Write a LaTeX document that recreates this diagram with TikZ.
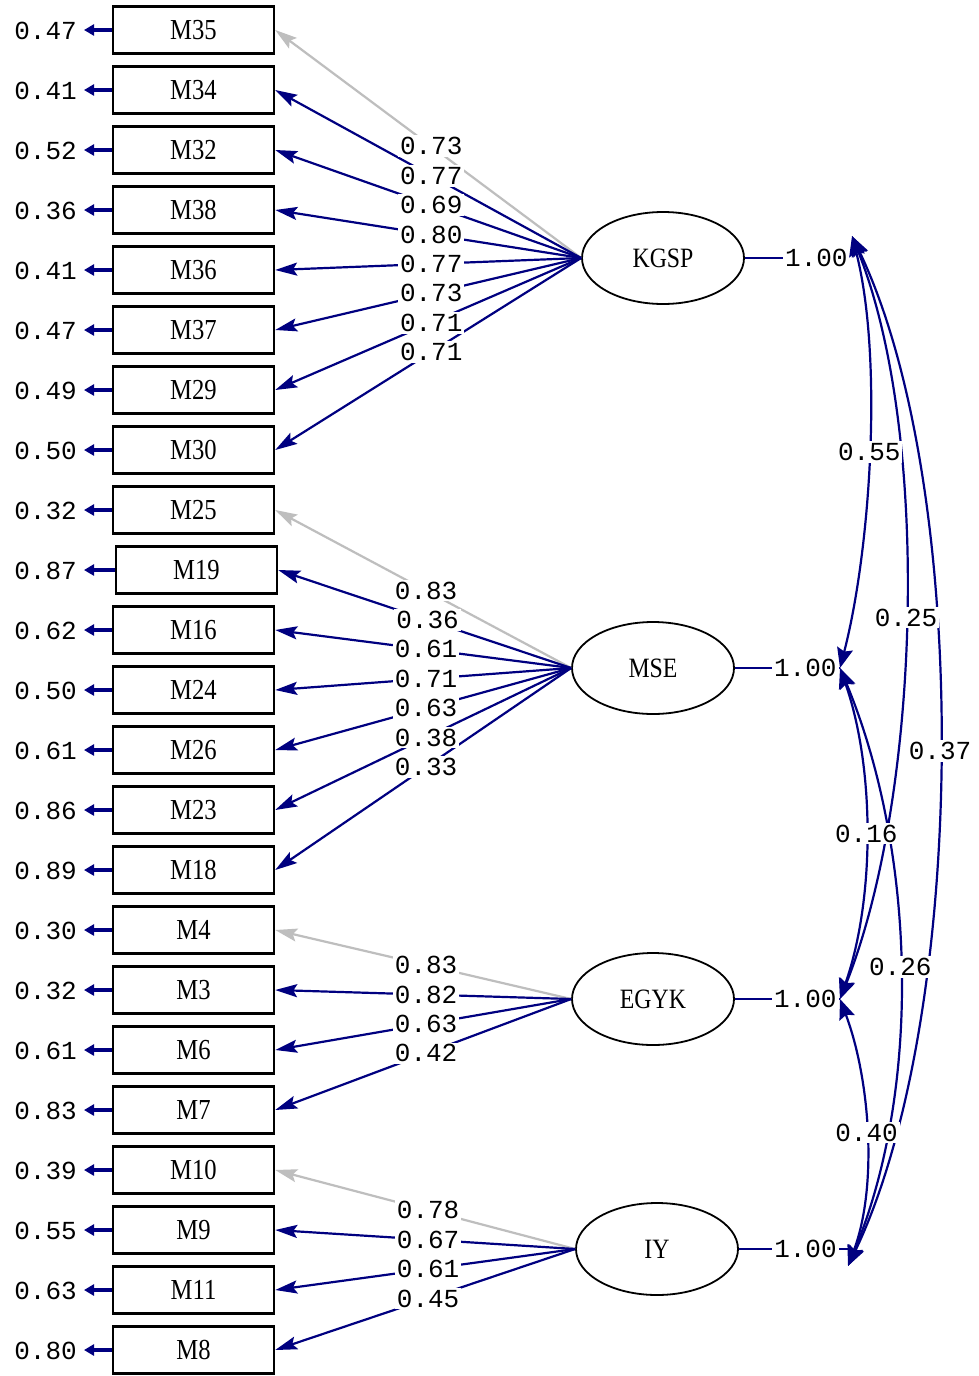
\documentclass[tikz,border=0pt]{standalone}
\usepackage{fontspec}
\newfontfamily\numfont{Liberation Mono}
\newfontfamily\lblfont[FakeStretch=0.85]{Liberation Serif}
\usetikzlibrary{arrows.meta,shapes.geometric}
\definecolor{navy}{RGB}{0,0,128}
\definecolor{fixgrey}{RGB}{190,190,190}
\tikzset{
 obs/.style={draw=black,line width=2.4pt,minimum width=161pt,minimum height=47pt,inner sep=0pt,font=\lblfont\fontsize{29}{30}\selectfont},
 lat/.style={ellipse,draw=black,line width=1.8pt,minimum width=162pt,minimum height=92pt,inner sep=0pt,font=\lblfont\fontsize{28}{30}\selectfont},
 num/.style={font=\numfont\fontsize{26}{28}\selectfont,text=black},
 lab/.style={num,fill=white,inner sep=2pt},
 load/.style={draw=navy,line width=2.2pt,-{Stealth[length=22pt,width=13pt,inset=4pt]}},
 fixload/.style={draw=fixgrey,line width=2.2pt,-{Stealth[length=22pt,width=13pt,inset=4pt]}},
 err/.style={draw=navy,line width=3.6pt,-{Triangle[length=10pt,width=11pt]}},
 varl/.style={draw=navy,line width=2.2pt},
 cov/.style={draw=navy,line width=2.2pt,{Stealth[length=20pt,width=16pt,inset=3pt]}-{Stealth[length=20pt,width=16pt,inset=3pt]}},
}
\begin{document}
\begin{tikzpicture}[x=1pt,y=-1pt]
\fill[white] (0,0) rectangle (978,1376);
\useasboundingbox (0,0) rectangle (978,1376);

% observed variables with error variances
\foreach \t/\e/\dx [count=\i from 0] in {M35/0.47/0,M34/0.41/0,M32/0.52/0,M38/0.36/0,M36/0.41/0,M37/0.47/0,M29/0.49/0,M30/0.50/0,M25/0.32/0,M19/0.87/3,M16/0.62/0,M24/0.50/0,M26/0.61/0,M23/0.86/0,M18/0.89/0,M4/0.30/0,M3/0.32/0,M6/0.61/0,M7/0.83/0,M10/0.39/0,M9/0.55/0,M11/0.63/0,M8/0.80/0}{
  \node[obs] (b\i) at ({193.5+\dx},{30+60*\i}) {\t};
  \coordinate (e\i) at (84,{30+60*\i});
  \draw[err] (b\i.west) -- (e\i);
  \node[num,anchor=east,inner sep=0pt] (et\i) at (77,{31+60*\i}) {\e};
}

% latent variables
\node[lat] (K) at (663,258) {KGSP};
\node[lat] (M) at (653,668) {MSE};
\node[lat] (E) at (653,999) {EGYK};
\node[lat] (I) at (657,1249) {IY};

% loadings (lines)
\draw[fixload] (K.west) -- (b0.east);
\foreach \i in {1,...,7} \draw[load] (K.west) -- (b\i.east);
\draw[fixload] (M.west) -- (b8.east);
\foreach \i in {9,...,14} \draw[load] (M.west) -- (b\i.east);
\draw[fixload] (E.west) -- (b15.east);
\foreach \i in {16,...,18} \draw[load] (E.west) -- (b\i.east);
\draw[fixload] (I.west) -- (b19.east);
\foreach \i in {20,...,22} \draw[load] (I.west) -- (b\i.east);

% loadings (labels)
\foreach \i/\v in {0/0.73,1/0.77,2/0.69,3/0.80,4/0.77,5/0.73,6/0.71,7/0.71}
  \path (K.west) -- node[lab,pos=0.49] (l\i) {\v} (b\i.east);
\foreach \i/\v in {8/0.83,9/0.36,10/0.61,11/0.71,12/0.63,13/0.38,14/0.33}
  \path (M.west) -- node[lab,pos=0.49] (l\i) {\v} (b\i.east);
\foreach \i/\v in {15/0.83,16/0.82,17/0.63,18/0.42}
  \path (E.west) -- node[lab,pos=0.49] (l\i) {\v} (b\i.east);
\foreach \i/\v in {19/0.78,20/0.67,21/0.61,22/0.45}
  \path (I.west) -- node[lab,pos=0.49] (l\i) {\v} (b\i.east);

% variances of latent variables
\coordinate (kv) at (850,258);
\coordinate (mv) at (840,668);
\coordinate (ev) at (840,999);
\coordinate (iv) at (848,1249);
\draw[varl] (K.east) -- node[lab,pos=0.68] (vk) {1.00} (kv);
\draw[varl] (M.east) -- node[lab,pos=0.67] (vm) {1.00} (mv);
\draw[varl] (E.east) -- node[lab,pos=0.67] (ve) {1.00} (ev);
\draw[varl] (I.east) -- node[lab,pos=0.61] (vi) {1.00} (iv);

% covariance points
\coordinate (cK) at (852,236);
\coordinate (cM) at (840,668);
\coordinate (cE) at (840,999);
\coordinate (cI) at (848,1266);

% covariances (curves)
\draw[cov] (cK) .. controls +(31,120) and +(31,-120) .. (cM);
\draw[cov] (cK) .. controls +(80,200) and +(80,-200) .. (cE);
\draw[cov] (cK) .. controls +(120,250) and +(120,-250) .. (cI);
\draw[cov] (cM) .. controls +(35,100) and +(35,-100) .. (cE);
\draw[cov] (cM) .. controls +(75,180) and +(75,-180) .. (cI);
\draw[cov] (cE) .. controls +(30,80) and +(30,-80) .. (cI);

% covariances (labels)
\path (cK) .. controls +(31,120) and +(31,-120) .. (cM) node[lab,pos=0.5] (c1) {0.55};
\path (cK) .. controls +(80,200) and +(80,-200) .. (cE) node[lab,pos=0.5] (c2) {0.25};
\path (cK) .. controls +(120,250) and +(120,-250) .. (cI) node[lab,pos=0.5] (c3) {0.37};
\path (cM) .. controls +(35,100) and +(35,-100) .. (cE) node[lab,pos=0.5] (c4) {0.16};
\path (cM) .. controls +(75,180) and +(75,-180) .. (cI) node[lab,pos=0.5] (c5) {0.26};
\path (cE) .. controls +(30,80) and +(30,-80) .. (cI) node[lab,pos=0.5] (c6) {0.40};
\end{tikzpicture}
\end{document}
